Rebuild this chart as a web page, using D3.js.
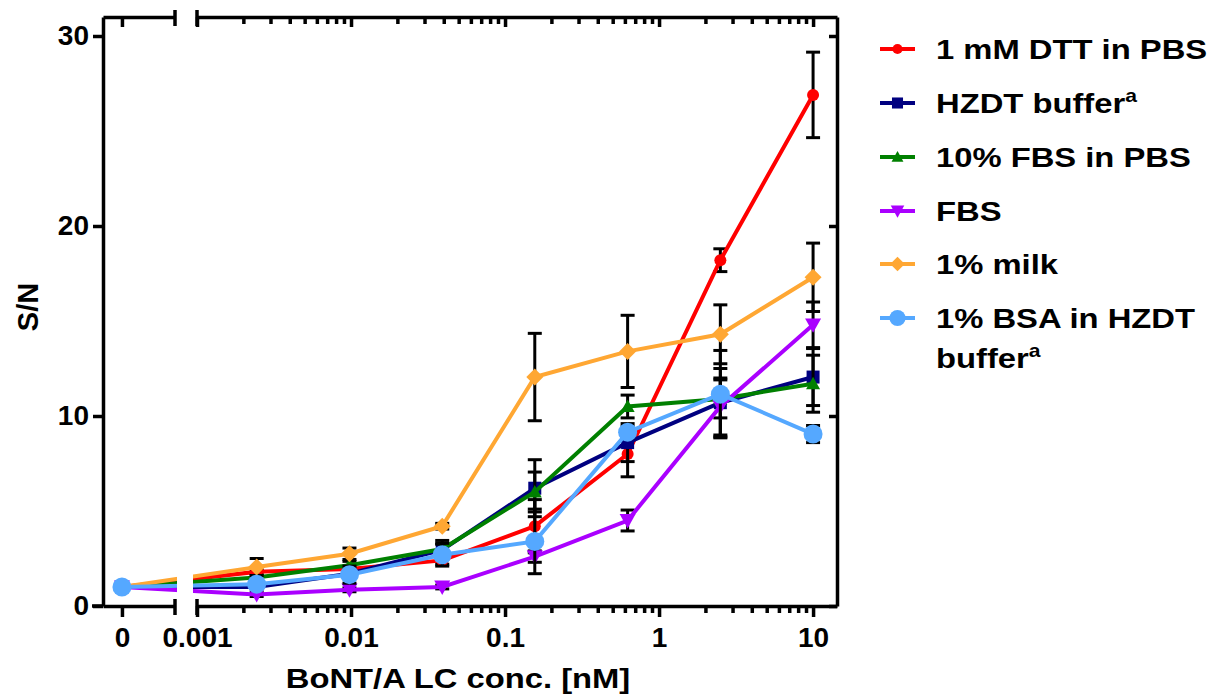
<!DOCTYPE html>
<html><head><meta charset="utf-8">
<script src="https://cdn.jsdelivr.net/npm/d3@7"></script>
<style>
body{margin:0;background:#fff;}
text{font-family:"Liberation Sans",Arial,sans-serif;font-weight:bold;}
</style></head>
<body><svg id="c" width="1216" height="698"></svg>
<script>
// ---- data ----
const conc = [0, 0.00244, 0.00977, 0.0391, 0.156, 0.625, 2.5, 10];
const seriesNames = ["1 mM DTT in PBS", "HZDT buffer", "10% FBS in PBS", "FBS", "1% milk", "1% BSA in HZDT buffer"];
const dtt    = [1.0, 1.8, 1.95, 2.4, 4.2, 8.0, 18.2, 26.9];
const dttErr = [0, 0.1, 0.1, 0.2, 1.4, 1.2, 0.6, 2.25];
const hzdt    = [1.0, 1.0, 1.7, 2.95, 6.2, 8.6, 10.7, 12.05];
const hzdtErr = [0, 0.1, 0.2, 0.5, 1.5, 1.0, 1.8, 1.5];
const fbs10    = [1.0, 1.5, 2.15, 3.0, 6.0, 10.5, 10.9, 11.7];
const fbs10Err = [0, 0.1, 0.2, 0.25, 1.05, 0.6, 1.0, 1.5];
const fbs    = [1.0, 0.6, 0.85, 1.0, 2.6, 4.5, 10.5, 14.8];
const fbsErr = [0, 0.1, 0.1, 0.1, 0.3, 0.55, 1.5, 1.2];
const milk    = [1.0, 2.05, 2.75, 4.2, 12.05, 13.4, 14.3, 17.3];
const milkErr = [0, 0.45, 0.3, 0.15, 2.3, 1.9, 1.55, 1.8];
const bsa    = [1.0, 1.15, 1.65, 2.7, 3.4, 9.15, 11.15, 9.05];
const bsaErr = [0, 0.1, 0.45, 0.6, 1.7, 0.3, 2.3, 0.45];
const xMajorTicks = [0.001, 0.01, 0.1, 1, 10];
const xMajorLabels = ["0.001", "0.01", "0.1", "1", "10"];
const yTicks = [0, 10, 20, 30];
const colors = ["#ff0000", "#000080", "#008000", "#aa00ff", "#ffa733", "#55a8ff"];
const symbols = ["circle", "square", "triangle", "triangleDown", "diamond", "bigcircle"];

const values = [dtt, hzdt, fbs10, fbs, milk, bsa];
const errs = [dttErr, hzdtErr, fbs10Err, fbsErr, milkErr, bsaErr];

// ---- layout ----
const svg = d3.select("#c");
const L = 103, R = 837, T = 17, B = 606;
const brk1 = 175, brk2 = 197;
const y = d3.scaleLinear().domain([0, 31]).range([B, T]);
const xLog = d3.scaleLog().domain([0.001, 14.3]).range([brk2, R]);
const x0 = d3.scaleLinear().domain([-0.5, 1.4]).range([L, brk1]);
const xp = v => v === 0 ? x0(0) : xLog(v);

const AW = 3.5;
function styleAxis(g){
  g.selectAll("path.domain").attr("stroke","#000").attr("stroke-width",AW);
  g.selectAll(".tick line").attr("stroke","#000").attr("stroke-width",AW);
}
const minor = [];
for (let e=-3; e<=1; e++) for (let m=2; m<=9; m++){ const v=m*Math.pow(10,e); if (v<14.3) minor.push(v); }

// bottom axis
const gb0 = svg.append("g").attr("transform",`translate(0,${B})`)
  .call(d3.axisBottom(x0).tickValues([0]).tickSize(11).tickSizeOuter(0).tickFormat(()=>"0"));
const gb1 = svg.append("g").attr("transform",`translate(0,${B})`)
  .call(d3.axisBottom(xLog).tickValues(xMajorTicks).tickSize(11).tickSizeOuter(0).tickFormat((d,i)=>xMajorLabels[i]));
const gbm = svg.append("g").attr("transform",`translate(0,${B})`)
  .call(d3.axisBottom(xLog).tickValues(minor).tickSize(7).tickFormat(""));
gbm.select("path.domain").remove();
[gb0,gb1,gbm].forEach(styleAxis);
[gb0,gb1].forEach(g=>g.selectAll(".tick text").attr("y",41).attr("dy",0)
  .attr("font-size",28).attr("fill","#000"));
svg.append("line").attr("x1",L-11).attr("x2",L).attr("y1",B).attr("y2",B).attr("stroke","#000").attr("stroke-width",AW);

// top axis (mirror)
const gt0 = svg.append("g").attr("transform",`translate(0,${T})`)
  .call(d3.axisBottom(x0).tickValues([0]).tickSize(10).tickSizeOuter(0).tickFormat(""));
const gt1 = svg.append("g").attr("transform",`translate(0,${T})`)
  .call(d3.axisBottom(xLog).tickValues(xMajorTicks).tickSize(10).tickSizeOuter(0).tickFormat(""));
const gtm = svg.append("g").attr("transform",`translate(0,${T})`)
  .call(d3.axisBottom(xLog).tickValues(minor).tickSize(7).tickFormat(""));
gtm.select("path.domain").remove();
[gt0,gt1,gtm].forEach(styleAxis);

// break caps
[T,B].forEach(yy=>{
  [brk1,brk2].forEach(xx=>{
    svg.append("line").attr("x1",xx).attr("x2",xx).attr("y1",yy-7).attr("y2",yy+9)
      .attr("stroke","#000").attr("stroke-width",AW);
  });
});

// left y axis
const gl = svg.append("g").attr("transform",`translate(${L},0)`)
  .call(d3.axisLeft(y).tickValues(yTicks).tickSize(10).tickPadding(4).tickSizeOuter(0));
styleAxis(gl);
gl.selectAll(".tick text").attr("font-size",28).attr("fill","#000");
// right axis
const gr = svg.append("g").attr("transform",`translate(${R},0)`)
  .call(d3.axisLeft(y).tickValues(yTicks).tickSize(8).tickSizeOuter(0).tickFormat(""));
styleAxis(gr);

// axis titles
svg.append("text").attr("transform",`translate(458,688) scale(1.17,1)`).attr("text-anchor","middle")
  .attr("font-size",28).text("BoNT/A LC conc. [nM]");
svg.append("text").attr("transform",`translate(38,307) rotate(-90)`).attr("text-anchor","middle")
  .attr("font-size",29).text("S/N");

// clip for break gap
const defs = svg.append("defs");
const cp = defs.append("clipPath").attr("id","brk");
cp.append("rect").attr("x",0).attr("y",0).attr("width",177).attr("height",698);
cp.append("rect").attr("x",193).attr("y",0).attr("width",1216-193).attr("height",698);

function drawSymbol(g, type, cx, cy, color, scale){
  const s = scale||1;
  if (type==="circle") g.append("circle").attr("cx",cx).attr("cy",cy).attr("r",6*s).attr("fill",color);
  else if (type==="bigcircle") g.append("circle").attr("cx",cx).attr("cy",cy).attr("r",9.5*s).attr("fill",color);
  else if (type==="square") g.append("rect").attr("x",cx-6.5*s).attr("y",cy-6.5*s).attr("width",13*s).attr("height",13*s).attr("fill",color);
  else if (type==="triangle") { const h=7*s; g.append("path").attr("d",`M${cx},${cy-h} L${cx+h},${cy+h*0.8} L${cx-h},${cy+h*0.8} Z`).attr("fill",color); }
  else if (type==="triangleDown") { const h=8*s; g.append("path").attr("d",`M${cx},${cy+h} L${cx+h},${cy-h*0.8} L${cx-h},${cy-h*0.8} Z`).attr("fill",color); }
  else if (type==="diamond") { const h=8.5*s; g.append("path").attr("d",`M${cx},${cy-h} L${cx+h},${cy} L${cx},${cy+h} L${cx-h},${cy} Z`).attr("fill",color); }
}

const line = d3.line().x((d,i)=>xp(conc[i])).y(d=>y(d));
values.forEach((vals,si)=>{
  const g = svg.append("g");
  vals.forEach((v,i)=>{
    const e = errs[si][i]; if (!e) return;
    const cx = xp(conc[i]);
    g.append("line").attr("x1",cx).attr("x2",cx).attr("y1",y(v-e)).attr("y2",y(v+e)).attr("stroke","#000").attr("stroke-width",3);
    [v-e, v+e].forEach(w=>g.append("line").attr("x1",cx-7).attr("x2",cx+7).attr("y1",y(w)).attr("y2",y(w)).attr("stroke","#000").attr("stroke-width",3));
  });
  g.append("path").datum(vals).attr("d",line).attr("fill","none").attr("stroke",colors[si])
    .attr("stroke-width",4).attr("stroke-linejoin","miter").attr("clip-path","url(#brk)");
  vals.forEach((v,i)=>drawSymbol(g, symbols[si], xp(conc[i]), y(v), colors[si]));
});

// legend
const legY = [49, 103, 157, 211, 264, 318];
const lg = svg.append("g");
seriesNames.forEach((n,i)=>{
  const cy = legY[i];
  lg.append("line").attr("x1",880).attr("x2",915).attr("y1",cy).attr("y2",cy).attr("stroke",colors[i]).attr("stroke-width",4);
  drawSymbol(lg, symbols[i], 897.5, cy, colors[i], 0.85);
  const t = lg.append("text").attr("transform",`translate(936,${cy+10}) scale(1.17,1)`).attr("font-size",28);
  if (i===1){
    t.append("tspan").text("HZDT buffer");
    t.append("tspan").attr("font-size",18).attr("dy",-11).text("a");
  } else if (i===5){
    t.append("tspan").text("1% BSA in HZDT");
    const t2 = lg.append("text").attr("transform",`translate(936,${cy+50}) scale(1.17,1)`).attr("font-size",28);
    t2.append("tspan").text("buffer");
    t2.append("tspan").attr("font-size",18).attr("dy",-11).text("a");
  } else t.text(n);
});
</script></body></html>
